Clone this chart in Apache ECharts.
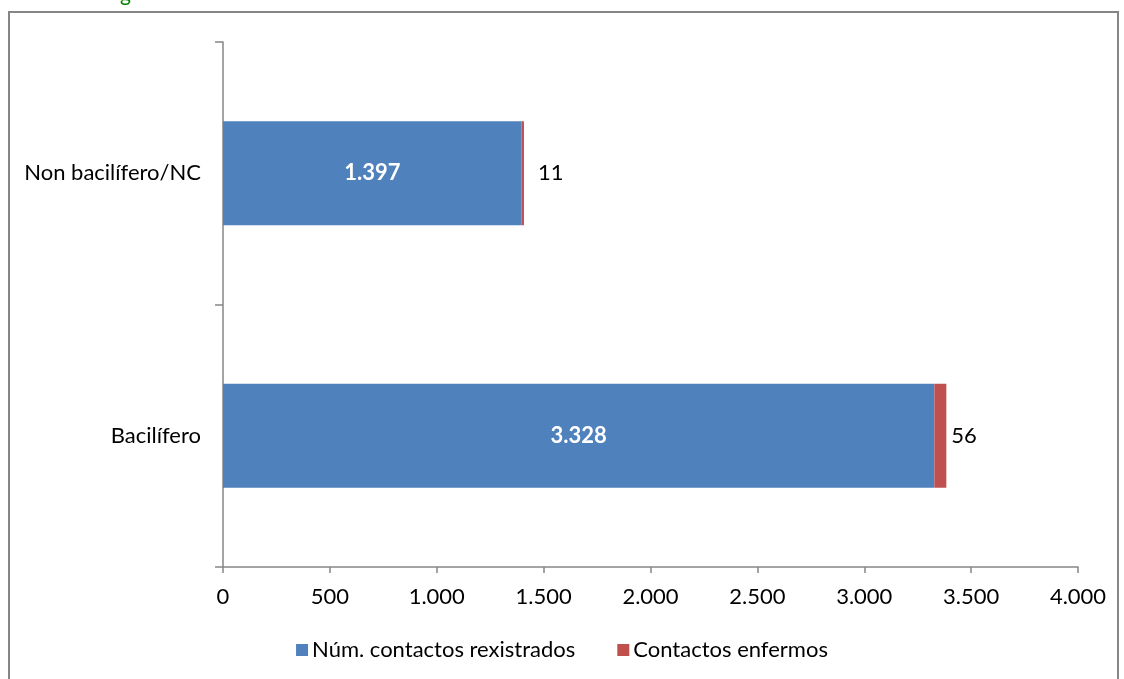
<!DOCTYPE html>
<html lang="gl">
<head>
    <meta charset="utf-8">
    <script src="https://cdn.jsdelivr.net/npm/echarts@6/dist/echarts.min.js"></script>
</head>
<body style="margin: 0; background: #fff">
<div id="container" style="width: 1124px; height: 679px"></div>
<script type="text/javascript">
    // datos
    var categorias = ['Bacilífero', 'Non bacilífero/NC'];
    var rexistrados = [3328, 1397];
    var enfermos = [56, 11];
    var xTicks = [0, 500, 1000, 1500, 2000, 2500, 3000, 3500, 4000];

    // separacion da etiqueta dos enfermos (como no Excel)
    var distEtiqueta = [5, 14];

    function fmt(v) {
        return String(v).replace(/\B(?=(\d{3})+(?!\d))/g, '.');
    }

    var font = 'Lato, "Open Sans", sans-serif';
    var fs = 22;
    var myChart = echarts.init(document.getElementById('container'));

    var option = {
        animation: false,
        textStyle: {fontFamily: font},
        graphic: [
            {
                type: 'rect',
                shape: {x: 9, y: 12, width: 1109, height: 680},
                style: {fill: 'none', stroke: '#868686', lineWidth: 2}
            },
            {
                type: 'text',
                left: 120, top: -16,
                style: {text: 'g', fill: '#008000', font: '21px ' + font}
            }
        ],
        legend: {
            bottom: 13,
            left: 'center',
            itemWidth: 12,
            itemHeight: 12,
            itemGap: 42,
            icon: 'rect',
            textStyle: {fontSize: fs, color: '#000', fontFamily: font, padding: [0, 0, 0, -1]}
        },
        grid: {left: 223, right: 46, top: 42, bottom: 112},
        xAxis: {
            type: 'value',
            min: xTicks[0],
            max: xTicks[xTicks.length - 1],
            interval: 500,
            splitLine: {show: false},
            axisLine: {show: true, lineStyle: {color: '#868686', width: 1.5}},
            axisTick: {show: true, length: 6, lineStyle: {color: '#868686', width: 1.5}},
            axisLabel: {
                color: '#000', fontSize: fs, margin: 19,
                formatter: function (v) { return fmt(v); }
            }
        },
        yAxis: {
            type: 'category',
            data: categorias,
            axisLine: {show: true, lineStyle: {color: '#868686', width: 1.5}},
            axisTick: {show: true, length: 8, alignWithLabel: false, lineStyle: {color: '#868686', width: 1.5}},
            axisLabel: {color: '#000', fontSize: fs, margin: 22}
        },
        series: [
            {
                name: 'Núm. contactos rexistrados',
                type: 'bar',
                stack: 'tot',
                barWidth: 104,
                itemStyle: {color: '#4f81bd'},
                label: {
                    show: true, position: 'inside', color: '#fff',
                    fontWeight: 'bold', fontSize: fs,
                    formatter: function (p) { return fmt(p.value); }
                },
                data: rexistrados
            },
            {
                name: 'Contactos enfermos',
                type: 'bar',
                stack: 'tot',
                barWidth: 104,
                itemStyle: {color: '#c0504d'},
                label: {
                    show: true, position: 'right',
                    color: '#000', fontSize: fs
                },
                data: enfermos.map(function (v, i) {
                    return {value: v, label: {distance: distEtiqueta[i]}};
                })
            }
        ]
    };

    myChart.setOption(option);
</script>
</body>
</html>
